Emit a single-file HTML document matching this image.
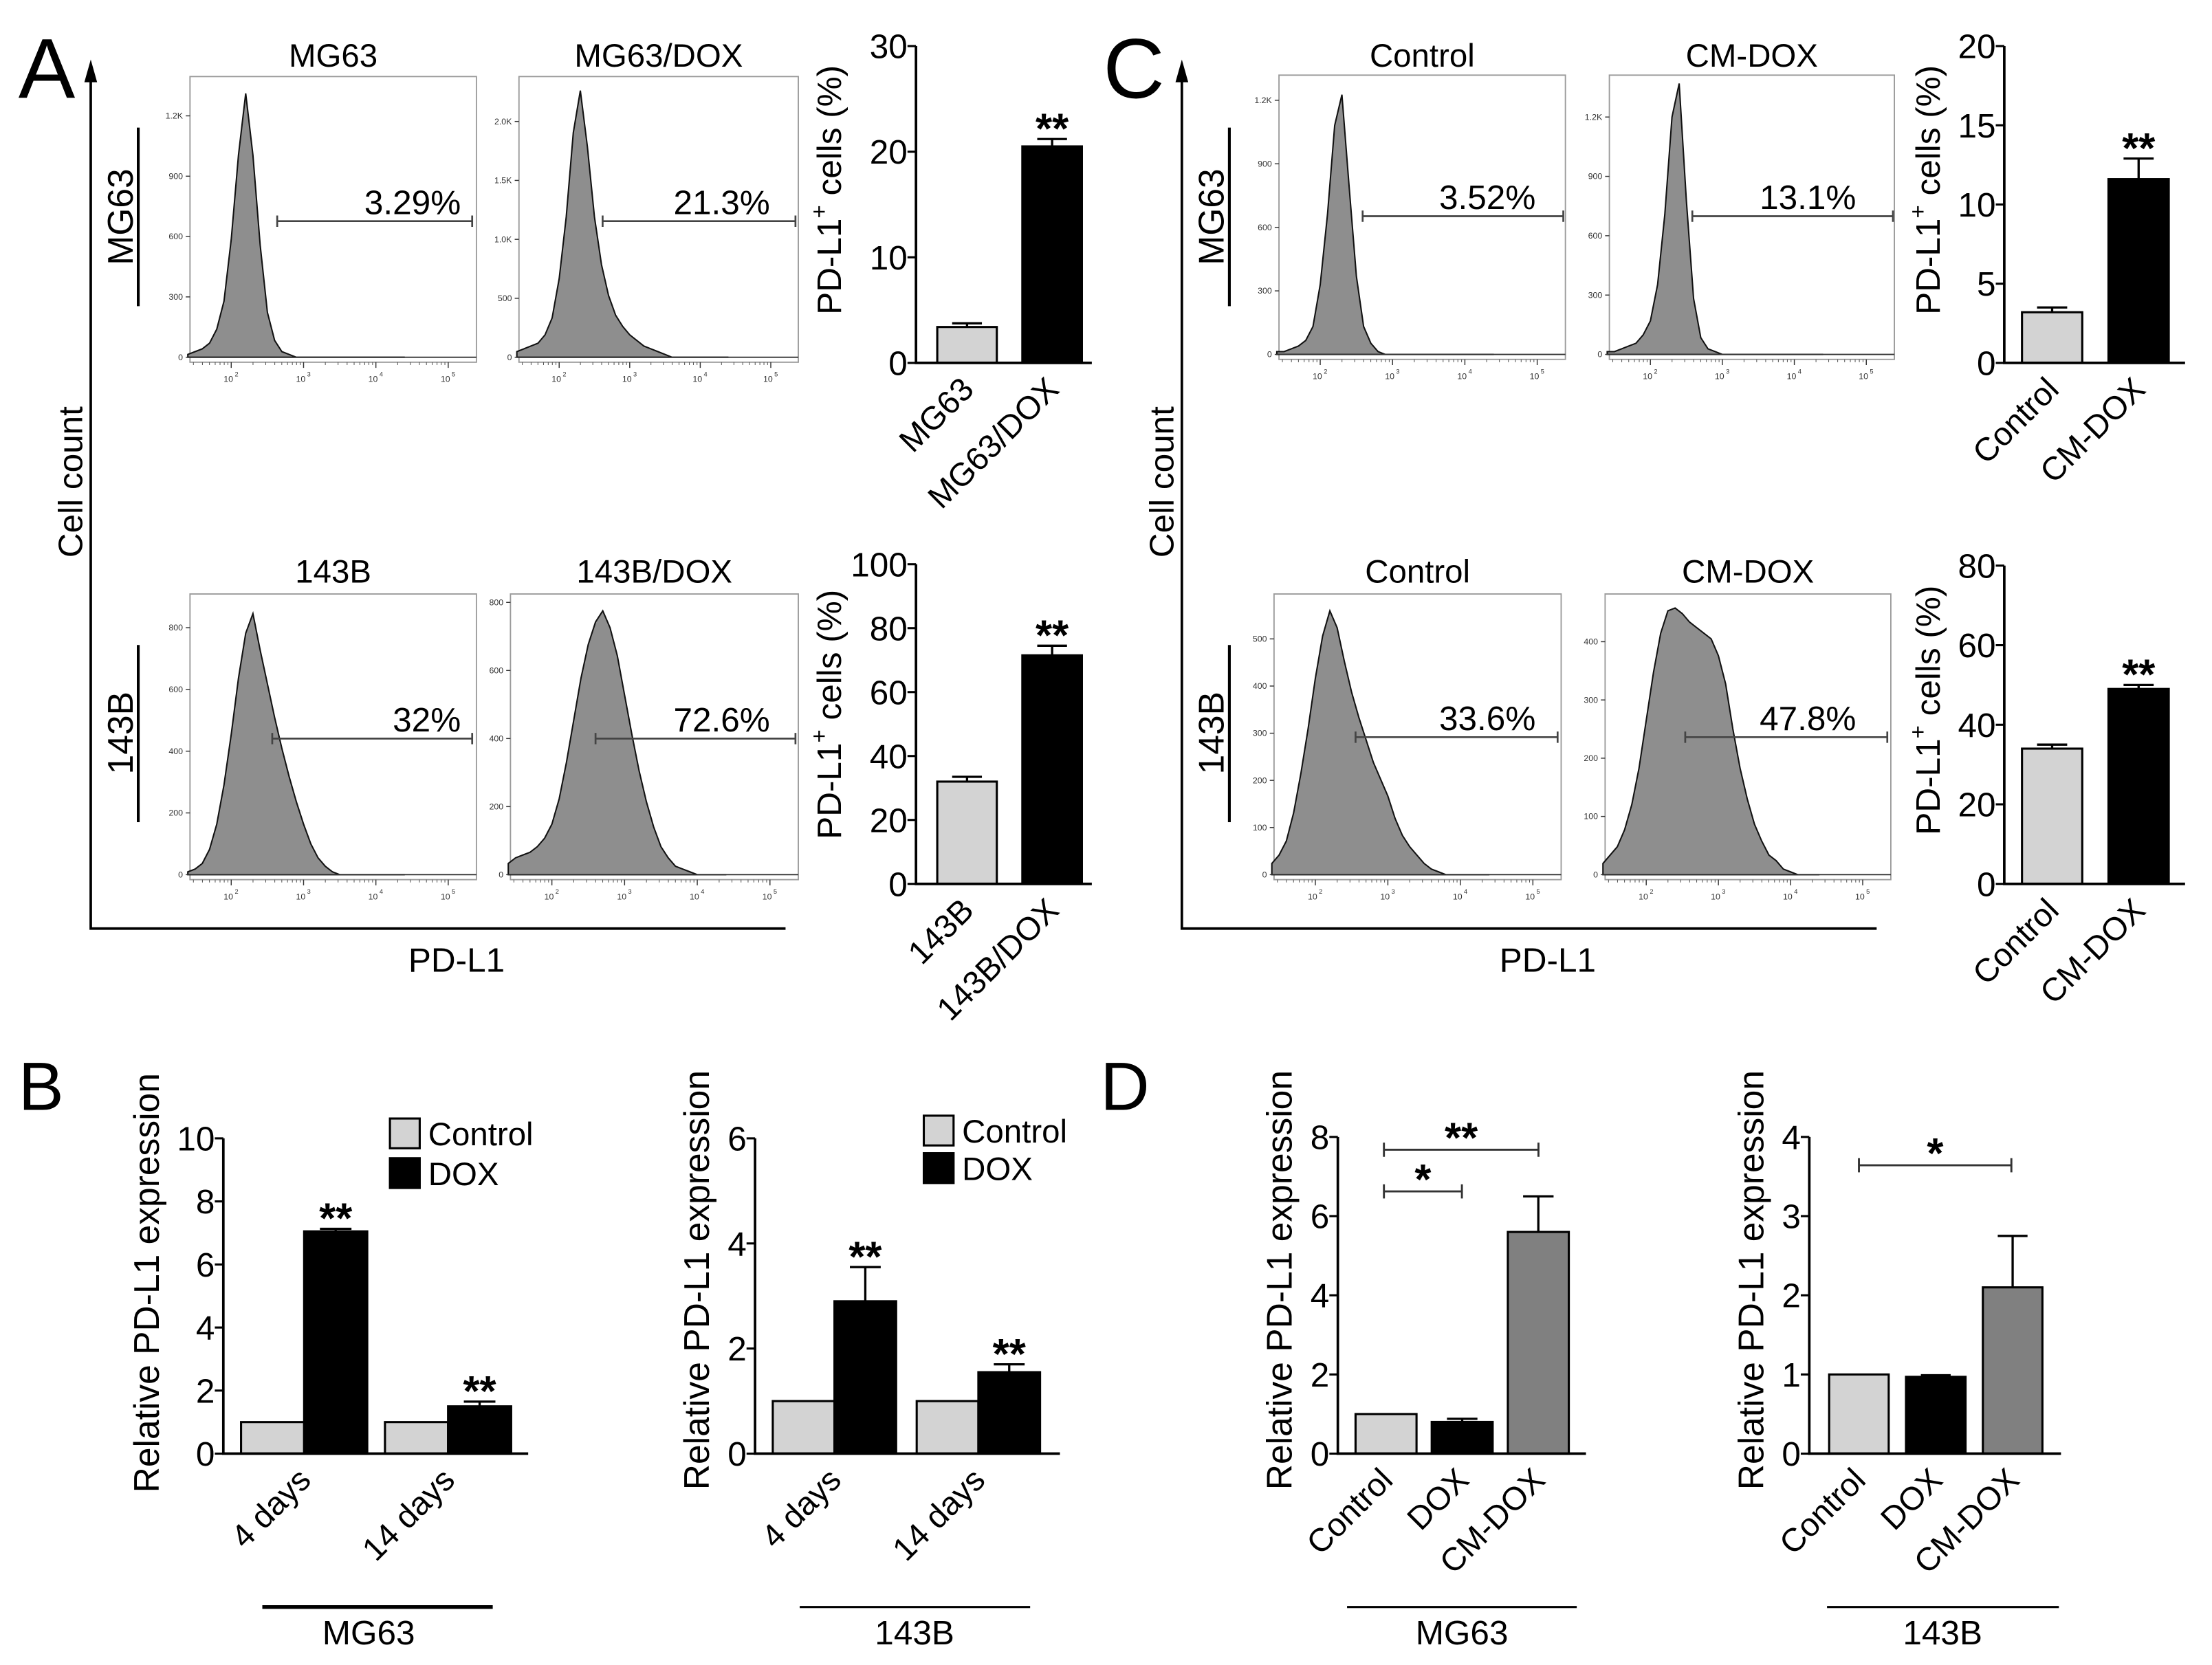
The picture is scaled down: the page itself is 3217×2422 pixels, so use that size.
<!DOCTYPE html>
<html><head><meta charset="utf-8"><style>
html,body{margin:0;padding:0;background:#fff;}
svg{display:block;font-family:"Liberation Sans",Arial,sans-serif;}
</style></head><body>
<svg id="fig" xmlns="http://www.w3.org/2000/svg" width="3217" height="2422" viewBox="0 0 1560 1174.5" preserveAspectRatio="none">
<rect x="0" y="0" width="1560" height="1174.5" fill="#fff"/>
</svg>
<script>
// ---------- data ----------
const histLogStart = 1.4;
const histLogStep = 0.1;
const histA1 = [0.01,0.02,0.03,0.05,0.1,0.2,0.42,0.72,0.94,0.72,0.4,0.16,0.06,0.02,0.01,0,0,0,0,0,0,0,0,0,0,0,0,0,0,0,0];
const histA2 = [0.02,0.03,0.04,0.05,0.08,0.14,0.28,0.5,0.8,0.95,0.75,0.5,0.33,0.22,0.15,0.11,0.08,0.06,0.04,0.03,0.02,0.01,0,0,0,0,0,0,0,0,0];
const histA3 = [0.01,0.02,0.04,0.09,0.18,0.32,0.5,0.7,0.86,0.93,0.8,0.68,0.56,0.45,0.35,0.26,0.18,0.11,0.06,0.03,0.01,0,0,0,0,0,0,0,0,0,0];
const histA4 = [0.04,0.06,0.07,0.08,0.1,0.13,0.18,0.27,0.4,0.55,0.7,0.82,0.9,0.94,0.88,0.78,0.64,0.5,0.37,0.26,0.17,0.1,0.06,0.03,0.02,0.01,0,0,0,0,0];
const histC1 = [0.01,0.01,0.02,0.03,0.05,0.1,0.25,0.5,0.82,0.93,0.6,0.28,0.1,0.04,0.01,0,0,0,0,0,0,0,0,0,0,0,0,0,0,0,0];
const histC2 = [0.01,0.01,0.02,0.03,0.04,0.07,0.12,0.25,0.5,0.85,0.97,0.55,0.2,0.06,0.02,0.01,0,0,0,0,0,0,0,0,0,0,0,0,0,0,0];
const histC3 = [0.04,0.07,0.12,0.22,0.36,0.52,0.7,0.85,0.94,0.88,0.76,0.65,0.56,0.48,0.4,0.34,0.28,0.2,0.14,0.1,0.07,0.04,0.02,0.01,0,0,0,0,0,0,0];
const histC4 = [0.04,0.07,0.1,0.16,0.25,0.38,0.55,0.72,0.86,0.94,0.95,0.93,0.9,0.88,0.86,0.84,0.78,0.68,0.52,0.38,0.27,0.18,0.12,0.07,0.05,0.02,0.01,0,0,0,0];
const histTicksMG63 = ["0","300","600","900","1.2K"];
const histTicksMG63DOX = ["0","500","1.0K","1.5K","2.0K"];
const histTicks800 = ["0","200","400","600","800"];
const histTicks500 = ["0","100","200","300","400","500"];
const histTicks400 = ["0","100","200","300","400"];
const histPercents = ["3.29%","21.3%","32%","72.6%","3.52%","13.1%","33.6%","47.8%"];

const aTopCats = ["MG63","MG63/DOX"];
const aTopVals = [3.4,20.5];
const aTopErr = [0.35,0.7];
const aTopTicks = [0,10,20,30];
const aBotCats = ["143B","143B/DOX"];
const aBotVals = [32,71.5];
const aBotErr = [1.5,3];
const aBotTicks = [0,20,40,60,80,100];
const cTopCats = ["Control","CM-DOX"];
const cTopVals = [3.2,11.6];
const cTopErr = [0.3,1.3];
const cTopTicks = [0,5,10,15,20];
const cBotCats = ["Control","CM-DOX"];
const cBotVals = [34,49];
const cBotErr = [1,1];
const cBotTicks = [0,20,40,60,80];

const bCats = ["4 days","14 days"];
const b1Ctrl = [1,1];
const b1Dox = [7.05,1.5];
const b1DoxErr = [0.08,0.15];
const b1Ticks = [0,2,4,6,8,10];
const b2Ctrl = [1,1];
const b2Dox = [2.9,1.55];
const b2DoxErr = [0.65,0.15];
const b2Ticks = [0,2,4,6];

const dCats = ["Control","DOX","CM-DOX"];
const d1Vals = [1,0.8,5.6];
const d1Err = [0,0.08,0.9];
const d1Ticks = [0,2,4,6,8];
const d2Vals = [1,0.97,2.1];
const d2Err = [0,0.02,0.65];
const d2Ticks = [0,1,2,3,4];

// ---------- helpers ----------
const NS = 'http://www.w3.org/2000/svg';
const svg = document.getElementById('fig');
function mk(tag, attrs, parent){ const e=document.createElementNS(NS,tag); for(const k in attrs) e.setAttribute(k,attrs[k]); (parent||svg).appendChild(e); return e; }
function txt(str, attrs, parent){ const e=mk('text',attrs,parent); e.textContent=str; return e; }
function grp(name){ const g=mk('g',{});   return g; }

// ---------- histogram ----------
function histogram(name, box, counts, ticks, tickFrac, title, titleY, pct, gate){
  const g = grp(name);
  const x0=box[0], x1=box[1], yt=box[2], yb=box[3], zero=yb-3.5;
  const w=x1-x0, h=zero-yt;
  const frame = mk('rect',{x:x0,y:yt,width:w,height:yb-yt,fill:'none',stroke:'#9a9a9a','stroke-width':0.9},g);
  
  
  const lx = L => x0 + w*(L-1.43)/3.96;
  let d = 'M'+lx(histLogStart)+','+zero;
  counts.forEach((c,i)=>{ d += ' L'+lx(histLogStart+i*histLogStep).toFixed(2)+','+(zero-c*h).toFixed(2); });
  d += ' L'+lx(histLogStart+(counts.length-1)*histLogStep)+','+zero+' Z';
  const p = mk('path',{d:d,fill:'#8e8e8e',stroke:'#111','stroke-width':1},g);
  
  
  mk('line',{x1:x0,y1:zero,x2:x1,y2:zero,stroke:'#333','stroke-width':0.9},g);
  // y ticks
  ticks.forEach((t,i)=>{
    const y = zero - h*tickFrac*i/(ticks.length-1);
    mk('line',{x1:x0-3,y1:y,x2:x0,y2:y,stroke:'#333','stroke-width':0.7},g);
    const tl = txt(t,{x:x0-5,y:y+2,'font-size':6,'text-anchor':'end',fill:'#333'},g);
    
    
  });
  // x ticks
  [2,3,4,5].forEach(e=>{
    const x=lx(e);
    mk('line',{x1:x,y1:yb,x2:x,y2:yb+4,stroke:'#333','stroke-width':0.7},g);
    const tl = txt('10',{x:x-2,y:yb+14,'font-size':6,'text-anchor':'middle',fill:'#333'},g);
    
    
    txt(String(e),{x:x+2.5,y:yb+10,'font-size':4.5,fill:'#333'},g);
    for(let k=2;k<10;k++){ const xm=lx(e-1+Math.log10(k)); if(xm>x0) mk('line',{x1:xm,y1:yb,x2:xm,y2:yb+2,stroke:'#555','stroke-width':0.5},g); }
  });
  const tt = txt(title,{x:(x0+x1)/2,y:titleY,'font-size':23,'text-anchor':'middle'},g);
  
  
  // gate
  const gy=gate[2];
  const gl = mk('path',{d:`M${gate[0]},${gy} L${gate[1]},${gy} M${gate[0]},${gy-4} L${gate[0]},${gy+4} M${gate[1]},${gy-4} L${gate[1]},${gy+4}`,stroke:'#444','stroke-width':1.3,fill:'none'},g);
  
  
  const pt = txt(pct,{x:gate[3],y:gy-5,'font-size':24,'text-anchor':'end'},g);
  
  
}

histogram('histogram-a-mg63',[134,336,54,255.5],histA1,histTicksMG63,0.86,'MG63',47,histPercents[0],[195.5,333,156,325]);
histogram('histogram-a-mg63-dox',[366,563,54,255.5],histA2,histTicksMG63DOX,0.84,'MG63/DOX',47,histPercents[1],[425,561,156,543]);
histogram('histogram-a-143b',[134,336,419,620.5],histA3,histTicks800,0.88,'143B',411,histPercents[2],[192,333,521,325]);
histogram('histogram-a-143b-dox',[360,563,419,620.5],histA4,histTicks800,0.97,'143B/DOX',411,histPercents[3],[420,561,521,543]);
histogram('histogram-c-control-mg63',[902,1104,53,253.5],histC1,histTicksMG63,0.91,'Control',47,histPercents[4],[961,1102.5,152.5,1083]);
histogram('histogram-c-cmdox-mg63',[1135,1336,53,253.5],histC2,histTicksMG63,0.85,'CM-DOX',47,histPercents[5],[1193.5,1335,152.5,1309]);
histogram('histogram-c-control-143b',[898.5,1101,419,620.5],histC3,histTicks500,0.84,'Control',411,histPercents[6],[956,1098.5,520,1083]);
histogram('histogram-c-cmdox-143b',[1132,1333.5,419,620.5],histC4,histTicks400,0.83,'CM-DOX',411,histPercents[7],[1188.5,1331,520,1309]);

// ---------- flow panel axes ----------
function flowFrame(name, ax, axEnd, letter, lx){
  const g = grp(name);
  const L = txt(letter,{x:lx,y:69,'font-size':60},g);
  
  
  const a = mk('path',{d:`M${ax},52 L${ax},655 L${axEnd},655`,stroke:'#000','stroke-width':1.8,fill:'none'},g);
  
  
  mk('path',{d:`M${ax-4.5},58 L${ax},42 L${ax+4.5},58 Z`,fill:'#000'},g);
  const cc = txt('Cell count',{x:0,y:0,'font-size':24,'text-anchor':'middle',transform:`translate(${ax-6},340) rotate(-90)`},g);
  
  
  const pl = txt('PD-L1',{x:(ax+axEnd)/2+13,y:685.5,'font-size':24,'text-anchor':'middle'},g);
  
  
  const rx = ax+33.5;
  mk('line',{x1:rx,y1:90,x2:rx,y2:216,stroke:'#000','stroke-width':2},g);
  mk('line',{x1:rx,y1:455,x2:rx,y2:580,stroke:'#000','stroke-width':2},g);
  const r1 = txt('MG63',{x:0,y:0,'font-size':25,'text-anchor':'middle',transform:`translate(${rx-4},153) rotate(-90)`},g);
  
  
  const r2 = txt('143B',{x:0,y:0,'font-size':25,'text-anchor':'middle',transform:`translate(${rx-4},517) rotate(-90)`},g);
  
  
}
flowFrame('panel-a-flow',64,554,'A',13);
flowFrame('panel-c-flow',833.5,1323.5,'C',778);

// ---------- bar charts ----------
function barChart(name, cfg, cats, series, ticks, ylabel, stars){
  const g = grp(name);
  const y = v => cfg.y0 - v/cfg.max*(cfg.y0-cfg.yTop);
  series.forEach((s,si)=>{
    s.vals.forEach((v,i)=>{
      const bx = cfg.x0 + cfg.off + i*cfg.gstep + si*cfg.sstep;
      const fill = s.fills ? s.fills[i] : s.fill;
      const r = mk('rect',{x:bx,y:y(v),width:cfg.w,height:cfg.y0-y(v),fill:fill,stroke:'#000','stroke-width':1.5},g);
      
      
      const e = s.errs ? s.errs[i] : 0;
      const cx = bx + cfg.w/2;
      if(e>0){
        const eb = mk('path',{d:`M${cx},${y(v)} L${cx},${y(v+e)} M${cx-cfg.w*0.25},${y(v+e)} L${cx+cfg.w*0.25},${y(v+e)}`,stroke:'#000','stroke-width':1.6,fill:'none'},g);
        
        
      }
      const st = stars && stars[si] ? stars[si][i] : '';
      if(st){
        const sl = txt(st,{x:cx,y:y(v+e)+3,'font-size':30,'text-anchor':'middle','font-weight':'bold'},g);
        
        
      }
    });
  });
  const ax = mk('path',{d:`M${cfg.x0},${cfg.yTop} L${cfg.x0},${cfg.y0} L${cfg.x1},${cfg.y0}`,stroke:'#000','stroke-width':1.8,fill:'none'},g);
  
  
  ticks.forEach(t=>{
    mk('line',{x1:cfg.x0-6,y1:y(t),x2:cfg.x0,y2:y(t),stroke:'#000','stroke-width':1.5},g);
    const tl = txt(String(t),{x:cfg.x0-6,y:y(t)+8.5,'font-size':24,'text-anchor':'end'},g);
    
    
  });
  cats.forEach((c,i)=>{
    const nS = series.length;
    const cx = cfg.x0 + cfg.off + i*cfg.gstep + (nS*cfg.sstep - (cfg.sstep-cfg.w))/2;
    const lx = cx + 6, ly = cfg.y0 + 20;
    const cl = txt(c,{x:lx,y:ly,'font-size':23,'text-anchor':'end',transform:`rotate(-45 ${lx} ${ly})`},g);
    
    
  });
  const yl = txt('',{x:0,y:0,'font-size':cfg.lfs||24,'text-anchor':'middle',transform:`translate(${cfg.lx},${cfg.ly}) rotate(-90)`},g);
  
  
  if(ylabel==='pct'){
    const t1=mk('tspan',{},yl); t1.textContent='PD-L1';
    const t2=mk('tspan',{dy:-10,'font-size':16},yl); t2.textContent='+';
    const t3=mk('tspan',{dy:10},yl); t3.textContent=' cells (%)';
  } else { yl.textContent = ylabel; }
  return {g:g,y:y};
}

barChart('bar-chart-a-mg63',{x0:646,x1:770,y0:256,yTop:32.5,max:30,off:15,w:42,gstep:60,sstep:0,lx:593,ly:134},
  aTopCats,[{vals:aTopVals,errs:aTopErr,fills:['#d3d3d3','#000']}],aTopTicks,'pct',[['','**']]);
barChart('bar-chart-a-143b',{x0:646,x1:770,y0:623.5,yTop:398,max:100,off:15,w:42,gstep:60,sstep:0,lx:593,ly:504},
  aBotCats,[{vals:aBotVals,errs:aBotErr,fills:['#d3d3d3','#000']}],aBotTicks,'pct',[['','**']]);
barChart('bar-chart-c-mg63',{x0:1413.5,x1:1541,y0:256,yTop:32.5,max:20,off:12.5,w:42.5,gstep:61,sstep:0,lx:1368,ly:134},
  cTopCats,[{vals:cTopVals,errs:cTopErr,fills:['#d3d3d3','#000']}],cTopTicks,'pct',[['','**']]);
barChart('bar-chart-c-143b',{x0:1413.5,x1:1541,y0:623.5,yTop:399,max:80,off:12.5,w:42.5,gstep:61,sstep:0,lx:1368,ly:501},
  cBotCats,[{vals:cBotVals,errs:cBotErr,fills:['#d3d3d3','#000']}],cBotTicks,'pct',[['','**']]);

barChart('bar-chart-b-mg63',{x0:157.5,x1:372.5,y0:1025.4,yTop:803,max:10,off:12.5,w:44.5,gstep:101.5,sstep:44.5,lx:112,ly:905,lfs:25},
  bCats,[{key:'control',vals:b1Ctrl,fill:'#d3d3d3'},{key:'dox',vals:b1Dox,errs:b1DoxErr,fill:'#000'}],b1Ticks,'Relative PD-L1 expression',[null,['**','**']]);
barChart('bar-chart-b-143b',{x0:532.5,x1:747.5,y0:1025.4,yTop:803,max:6,off:12.5,w:43.5,gstep:101.5,sstep:43.5,lx:500,ly:903,lfs:25},
  bCats,[{key:'control',vals:b2Ctrl,fill:'#d3d3d3'},{key:'dox',vals:b2Dox,errs:b2DoxErr,fill:'#000'}],b2Ticks,'Relative PD-L1 expression',[null,['**','**']]);
const d1 = barChart('bar-chart-d-mg63',{x0:943.5,x1:1118.5,y0:1025.4,yTop:802,max:8,off:12.5,w:43,gstep:53.7,sstep:0,lx:911,ly:903,lfs:25},
  dCats,[{vals:d1Vals,errs:d1Err,fills:['#d3d3d3','#000','#808080']}],d1Ticks,'Relative PD-L1 expression',null);
const d2 = barChart('bar-chart-d-143b',{x0:1276,x1:1453.5,y0:1025.4,yTop:802,max:4,off:14,w:42,gstep:54.2,sstep:0,lx:1243.5,ly:903,lfs:25},
  dCats,[{vals:d2Vals,errs:d2Err,fills:['#d3d3d3','#000','#808080']}],d2Ticks,'Relative PD-L1 expression',null);

// legends, letters, group lines, brackets
function legend(name,x,y1,y2){
  const g = grp(name);
  const r1 = mk('rect',{x:x,y:y1,width:21,height:21,fill:'#d3d3d3',stroke:'#000','stroke-width':1.5},g);
  
  
  const r2 = mk('rect',{x:x,y:y2,width:21,height:21,fill:'#000',stroke:'#000','stroke-width':1.5},g);
  
  
  const t1 = txt('Control',{x:x+27,y:y1+19,'font-size':23},g);
  
  
  const t2 = txt('DOX',{x:x+27,y:y2+19,'font-size':23},g);
  
  
}
legend('legend-b-mg63',275,789,817);
legend('legend-b-143b',651.5,787,813.5);

function groupLine(name,x1,x2,w,label,cx){
  const g = grp(name);
  mk('line',{x1:x1,y1:1133.6,x2:x2,y2:1133.6,stroke:'#000','stroke-width':w},g);
  const t = txt(label,{x:cx,y:1160,'font-size':24,'text-anchor':'middle'},g);
  
  
}
groupLine('group-b-mg63',185,347.5,2.6,'MG63',260);
groupLine('group-b-143b',564,726.5,1.5,'143B',645);
groupLine('group-d-mg63',950,1112,1.5,'MG63',1031);
groupLine('group-d-143b',1288.5,1452,1.5,'143B',1370);

const lb = txt('B',{x:13,y:783,'font-size':48},svg);


const ld = txt('D',{x:776,y:783,'font-size':48},svg);



function bracket(name,xa,xb,y,star){
  const g = grp(name);
  mk('path',{d:`M${xa},${y} L${xb},${y} M${xa},${y-5} L${xa},${y+5} M${xb},${y-5} L${xb},${y+5}`,stroke:'#333','stroke-width':1.4,fill:'none'},g);
  const t = txt(star,{x:(xa+xb)/2,y:y+2,'font-size':30,'font-weight':'bold','text-anchor':'middle'},g);
  
  
}
bracket('bracket-d-mg63-cmdox',976,1085,811,'**');
bracket('bracket-d-mg63-dox',976,1031,840.4,'*');
bracket('bracket-d-143b-cmdox',1311,1418.5,822,'*');
</script>
</body></html>
